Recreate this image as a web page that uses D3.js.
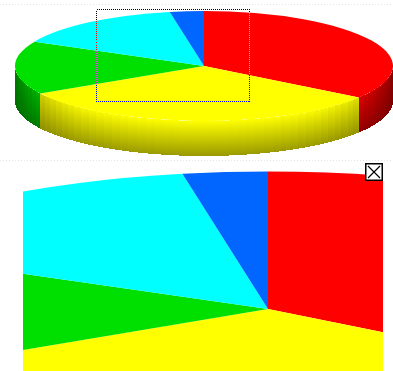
<!DOCTYPE html>
<html>
<head>
<meta charset="utf-8">
<script src="https://cdn.jsdelivr.net/npm/d3@7"></script>
<style>
  html, body { margin: 0; padding: 0; background: #fff; }
  svg { display: block; background: #fff; }
</style>
</head>
<body>
<svg id="chart" width="393" height="371"></svg>
<script>
// slice data, clockwise from 12 o'clock
var sliceNames = ["Red", "Yellow", "Green", "Cyan", "Blue"];
var sliceValues = [34.7, 32.0, 15.6, 14.8, 2.9];
var sliceColors = ["#ff0000", "#ffff00", "#00e000", "#00ffff", "#0066ff"];

var svg = d3.select("#chart");
var defs = svg.append("defs");

// pie geometry (overview)
var cx = 204, cy = 66, rx = 189, ry = 55, depth = 35;

var color = d3.scaleOrdinal().domain(sliceNames).range(sliceColors);
var pie = d3.pie().sort(null).value(function (d, i) { return sliceValues[i]; })
    .startAngle(0).endAngle(2 * Math.PI);
var arcs = pie(sliceNames);

function pt(a, dy) {
    return [cx + rx * Math.sin(a), cy - ry * Math.cos(a) + (dy || 0)];
}
function shade(c, f) {
    var r = d3.rgb(c);
    return d3.rgb(r.r * f, r.g * f, r.b * f).toString();
}

var gradId = 0;
function drawPie(g) {
    // side walls, front half only
    arcs.forEach(function (d) {
        var b0 = Math.max(d.startAngle, Math.PI / 2);
        var b1 = Math.min(d.endAngle, 3 * Math.PI / 2);
        if (b1 <= b0) return;
        var c = color(d.data);
        var n = Math.max(1, Math.ceil((b1 - b0) / 0.05));
        var step = (b1 - b0) / n;
        for (var i = 0; i < n; i++) {
            var a0 = b0 + i * step, a1 = a0 + step + (i < n - 1 ? 0.004 : 0);
            var am = a0 + step / 2;
            var edge = Math.pow(Math.abs(Math.sin(am)), 6);
            var id = "sg" + (gradId++);
            var lg = defs.append("linearGradient").attr("id", id)
                .attr("x1", 0).attr("y1", 0).attr("x2", 0).attr("y2", 1);
            lg.append("stop").attr("offset", 0).attr("stop-color", shade(c, 1 - 0.45 * edge));
            lg.append("stop").attr("offset", 1).attr("stop-color", shade(c, 0.6 - 0.12 * edge));
            var p0 = pt(a0), p1 = pt(a1), q1 = pt(a1, depth), q0 = pt(a0, depth);
            g.append("path")
                .attr("d", "M" + p0 + "L" + p1 + "L" + q1 + "L" + q0 + "Z")
                .attr("fill", "url(#" + id + ")")
                .attr("shape-rendering", "crispEdges");
        }
    });
    // top face
    g.selectAll(".slice").data(arcs).enter().append("path")
        .attr("class", "slice")
        .attr("fill", function (d) { return color(d.data); })
        .attr("d", function (d) {
            var p0 = pt(d.startAngle), p1 = pt(d.endAngle);
            var large = d.endAngle - d.startAngle > Math.PI ? 1 : 0;
            return "M" + cx + "," + cy + "L" + p0 + "A" + rx + "," + ry + " 0 " + large + " 1 " + p1 + "Z";
        });
}

// faint separators
[4, 160].forEach(function (y) {
    svg.append("line").attr("x1", 0).attr("x2", 393).attr("y1", y + 0.5).attr("y2", y + 0.5)
        .attr("stroke", "#e4e4e4").attr("stroke-dasharray", "1,2");
});

// overview pie
drawPie(svg.append("g"));

// selection rectangle, drawn inverted like an XOR rubber band
svg.append("rect")
    .attr("x", 96.5).attr("y", 9.5).attr("width", 153).attr("height", 92)
    .attr("fill", "none").attr("stroke", "#fff").attr("stroke-dasharray", "1,1")
    .attr("shape-rendering", "crispEdges")
    .style("mix-blend-mode", "difference");

// zoomed detail panel
defs.append("clipPath").attr("id", "zoomClip")
    .append("rect").attr("x", 23).attr("y", 161).attr("width", 360).attr("height", 220);
var zoomG = svg.append("g").attr("clip-path", "url(#zoomClip)")
    .append("g").attr("transform", "translate(-242,144) scale(2.5)");
drawPie(zoomG);

// close button
var btn = svg.append("g").attr("transform", "translate(365,163)");
btn.append("rect").attr("x", 0.75).attr("y", 0.75).attr("width", 16.5).attr("height", 16.5)
    .attr("fill", "#fff").attr("stroke", "#000").attr("stroke-width", 1.5);
btn.append("path").attr("d", "M3,3L15,15M15,3L3,15")
    .attr("stroke", "#000").attr("stroke-width", 1.2);
</script>
</body>
</html>
